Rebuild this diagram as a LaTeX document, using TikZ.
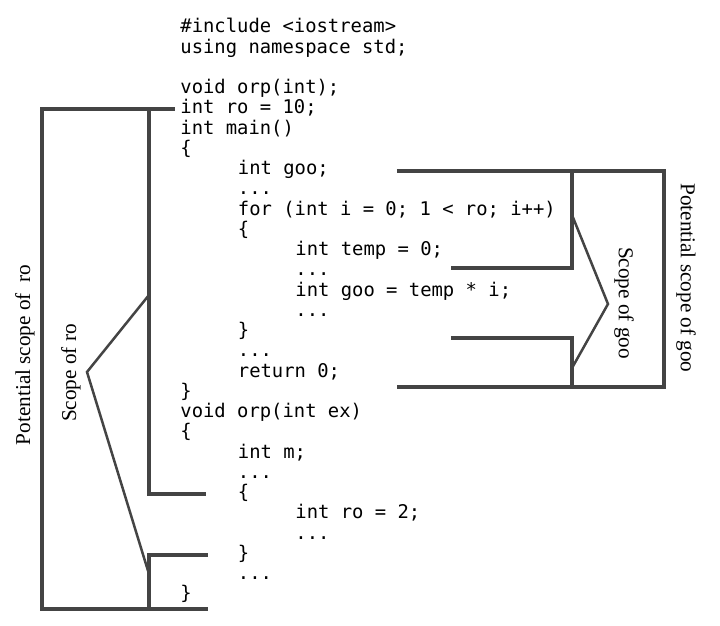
\documentclass[tikz,border=0pt]{standalone}
\usepackage{fontspec}
\setmainfont{Liberation Serif}
\setmonofont{DejaVu Sans Mono}
\usepackage{tikz}
\usetikzlibrary{positioning}
\definecolor{scopegray}{HTML}{444444}
\newcommand{\elide}{...}

\begin{document}
\begin{tikzpicture}[x=0.5pt, y=-0.5pt,
        codeline/.style={anchor=base west, inner sep=0pt, font=\fontsize{9.43}{10.1}\selectfont\ttfamily},
        bracket/.style={draw=scopegray, line width=1.65pt},
        pointer/.style={draw=scopegray, line width=1.25pt},
        scopelabel/.style={inner sep=0pt, font=\fontsize{10.6}{12}\selectfont}]
        \useasboundingbox (0,0) rectangle (720,626);

        % Code listing, one node per line (indent level / text)
        \foreach \ind/\txt [count=\i] in {
            0/\#include <iostream>,
            0/using namespace std;,
            0/{},
            0/void orp(int);,
            0/int ro = 10;,
            0/int main(),
            0/\{,
            1/int goo;,
            1/\elide,
            1/for (int i = 0; 1 < ro; i++),
            1/\{,
            2/int temp = 0;,
            2/\elide,
            2/int goo = temp * i;,
            2/\elide,
            1/\},
            1/\elide,
            1/return 0;,
            0/\},
            0/void orp(int ex),
            0/\{,
            1/int m;,
            1/\elide,
            1/\{,
            2/int ro = 2;,
            2/\elide,
            1/\},
            1/\elide,
            0/\}}
            \node[codeline] (line\i) at ({180+57.5*\ind}, {33+20.25*(\i-1)}) {\txt};

        % Potential scope of ro
        \draw[bracket] (175,109) -- (42,109) -- (42,609) -- (208,609);
        \node[scopelabel, rotate=90] (potro) at (25,355) {Potential scope of\ \ ro};

        % Scope of ro
        \draw[bracket] (149,109) -- (149,494) -- (206,494);
        \draw[bracket] (208,555) -- (149,555) -- (149,609);
        \draw[pointer] (149,295) -- (87,372) -- (149,574);
        \node[scopelabel, rotate=90] (scopero) at (71,373) {Scope of ro};

        % Potential scope of goo
        \draw[bracket] (397,171) -- (664,171) -- (664,387) -- (397,387);
        \node[scopelabel, rotate=-90] (potgoo) at (686,278) {Potential scope of goo};

        % Scope of goo
        \draw[bracket] (572,171) -- (572,268) -- (451,268);
        \draw[bracket] (451,338) -- (572,338) -- (572,387);
        \draw[pointer] (572,215) -- (608,304) -- (572,368);
        \node[scopelabel, rotate=-90] (scopegoo) at (624,303) {Scope of goo};
    \end{tikzpicture}
\end{document}
